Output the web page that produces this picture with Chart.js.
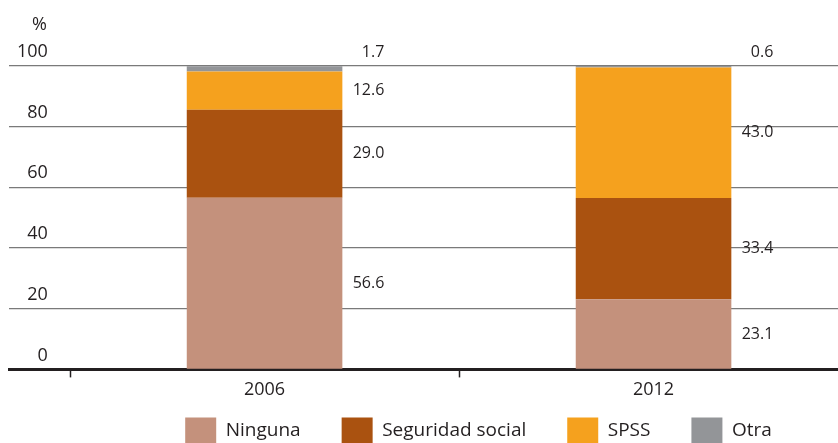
<!DOCTYPE html>
<html>
<head>
<meta charset="utf-8">
<script src="https://cdn.jsdelivr.net/npm/chart.js@4"></script>
<style>
  html, body { margin: 0; padding: 0; background: #fff; overflow: hidden; }
  .wrap { width: 948px; height: 481px; }
</style>
</head>
<body>
<div class="wrap"><canvas id="myChart"></canvas></div>
<script>
const YEARS = ["2006", "2012"];
const NINGUNA = [56.6, 23.1];
const SEGURIDAD = [29.0, 33.4];
const SPSS = [12.6, 43.0];
const OTRA = [1.7, 0.6];
const Y_TICKS = [0, 20, 40, 60, 80, 100];

const TEXT = "#231F20";
const FONT = "'Open Sans', sans-serif";

// categories sit at 0.5, 1.5 on a linear axis, ticks at the borders
const X_MIN = -0.157;
const X_MAX = 2.257;

const toPoints = (arr) => arr.map((v, i) => ({ x: i + 0.5, y: v }));

// etiquetas de valores y el "%"
const valueLabels = {
  id: "valueLabels",
  afterLayout(chart) {
    // leyenda pegada al eje x
    const l = chart.legend;
    const dy = l.top - (chart.chartArea.bottom + 7);
    l.top -= dy;
    l.bottom -= dy;
  },
  afterDatasetsDraw(chart) {
    const { ctx, chartArea } = chart;
    const last = chart.data.datasets.length - 1;
    ctx.save();
    ctx.fillStyle = TEXT;
    ctx.font = "16px " + FONT;
    ctx.textAlign = "right";
    ctx.textBaseline = "middle";
    chart.data.datasets.forEach((ds, i) => {
      chart.getDatasetMeta(i).data.forEach((bar, j) => {
        const x = bar.x + bar.width / 2 + 42;
        const y = i === last ? chartArea.top - 14 : (bar.y + bar.base) / 2;
        ctx.fillText(ds.data[j].y.toFixed(1), x, y);
      });
    });
    ctx.font = "18px " + FONT;
    ctx.fillText("%", 47, chartArea.top - 41);
    ctx.restore();
  },
};

const ctx = document.getElementById("myChart").getContext("2d");

const myChart = new Chart(ctx, {
  type: "bar",
  data: {
    datasets: [
      { label: "Ninguna", data: toPoints(NINGUNA), backgroundColor: "#C4917C" },
      { label: "Seguridad social", data: toPoints(SEGURIDAD), backgroundColor: "#AA5210" },
      { label: "SPSS", data: toPoints(SPSS), backgroundColor: "#F5A11E" },
      { label: "Otra", data: toPoints(OTRA), backgroundColor: "#939598" },
    ],
  },
  plugins: [valueLabels],
  options: {
    responsive: true,
    maintainAspectRatio: false,
    animation: false,
    layout: { padding: { top: 66, left: 9, right: 0, bottom: 0 } },
    datasets: {
      bar: { categoryPercentage: 1, barPercentage: 0.8, borderWidth: 0 },
    },
    plugins: {
      tooltip: { enabled: false },
      legend: {
        position: "bottom",
        labels: {
          boxWidth: 31,
          boxHeight: 27,
          padding: 41,
          color: TEXT,
          font: { family: FONT, size: 19 },
        },
      },
    },
    scales: {
      x: {
        type: "linear",
        stacked: true,
        offset: false,
        min: X_MIN,
        max: X_MAX,
        afterBuildTicks: (s) => {
          s.ticks = [0, 0.5, 1, 1.5, 2].map((v) => ({ value: v }));
        },
        border: { display: true, color: TEXT, width: 3 },
        grid: {
          offset: false,
          drawOnChartArea: false,
          drawTicks: true,
          tickLength: 8,
          tickWidth: 1.5,
          tickColor: (c) => (c.tick && c.tick.value % 1 === 0 ? TEXT : "rgba(0,0,0,0)"),
        },
        ticks: {
          autoSkip: false,
          maxRotation: 0,
          padding: 2,
          color: TEXT,
          font: { family: FONT, size: 18 },
          callback: (v) => (v % 1 ? YEARS[Math.floor(v)] : ""),
        },
      },
      y: {
        stacked: true,
        min: 0,
        max: 100,
        afterBuildTicks: (s) => {
          s.ticks = Y_TICKS.map((v) => ({ value: v }));
        },
        afterFit: (s) => {
          s.width = 0;
        },
        border: { display: false },
        grid: {
          drawTicks: false,
          lineWidth: 1.2,
          color: (c) => (c.tick && c.tick.value === 0 ? "rgba(0,0,0,0)" : "#7a7a7a"),
        },
        ticks: {
          mirror: true,
          crossAlign: "far",
          padding: 8,
          labelOffset: -14,
          color: TEXT,
          font: { family: FONT, size: 18 },
        },
      },
    },
  },
});
</script>
</body>
</html>
